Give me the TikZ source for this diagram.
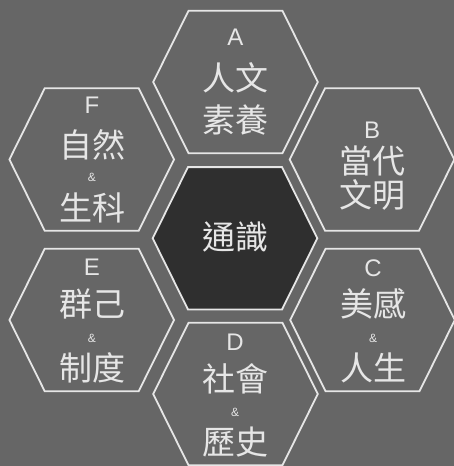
\documentclass[tikz,border=0pt]{standalone}
\usepackage{fontspec}
\setmainfont{Liberation Sans}
\newfontfamily\cjkfont{Noto Sans CJK TC}
\usepackage{tikz}
\usetikzlibrary{positioning}
\definecolor{honeybg}{HTML}{666666}
\definecolor{honeyline}{HTML}{E6E6E6}
\definecolor{honeycore}{HTML}{2F2F2F}
\tikzstyle{cell} = [draw=honeyline, line width=1.8pt, line join=miter]
\tikzstyle{word} = [text=honeyline, inner sep=0pt, font=\cjkfont\fontsize{33}{33}\selectfont]
\tikzstyle{letter} = [text=honeyline, inner sep=0pt, font=\fontsize{24}{24}\selectfont]
\tikzstyle{amp} = [text=honeyline, inner sep=0pt, font=\fontsize{12}{12}\selectfont]

\begin{document}
\begin{tikzpicture}[x=1pt, y=-1pt]
\fill[honeybg] (0,0) rectangle (454,466);
\useasboundingbox (0,0) rectangle (454,466);
% hexagon centres
\foreach \n/\x/\y in {a/235.5/82, b/372/159.5, c/372.5/320, d/235.5/394, e/91.7/320, f/91.7/159.5, core/235/238.3}
  \coordinate (\n) at (\x,\y);
\foreach \n in {a,b,c,d,e,f}
  \draw[cell, shift={(\n)}] (-82.3,0) -- (-47,-71.2) -- (47,-71.2) -- (82.3,0) -- (47,71.2) -- (-47,71.2) -- cycle;
\draw[cell, fill=honeycore, shift={(core)}] (-82.3,0) -- (-47,-71.2) -- (47,-71.2) -- (82.3,0) -- (47,71.2) -- (-47,71.2) -- cycle;

\node[word] (coreText) at (235,236.7) {通識};

\node[letter] (aTag) at (235.5,37) {A};
\node[word] (aTop) at (235.5,77.5) {人文};
\node[word] (aBot) at (235.5,120) {素養};

\node[letter] (bTag) at (372,130) {B};
\node[word] (bTop) at (372,161) {當代};
\node[word] (bBot) at (372,195) {文明};

\node[letter] (cTag) at (373,268) {C};
\node[word] (cTop) at (373,304) {美感};
\node[amp] (cAmp) at (373,338.5) {\&};
\node[word] (cBot) at (373,367.5) {人生};

\node[letter] (dTag) at (235,341.8) {D};
\node[word] (dTop) at (235,378.8) {社會};
\node[amp] (dAmp) at (235,412.8) {\&};
\node[word] (dBot) at (235,442) {歷史};

\node[letter] (eTag) at (92,267.5) {E};
\node[word] (eTop) at (92,304) {群己};
\node[amp] (eAmp) at (92,338.5) {\&};
\node[word] (eBot) at (92,368) {制度};

\node[letter] (fTag) at (92,105.5) {F};
\node[word] (fTop) at (92,145) {自然};
\node[amp] (fAmp) at (92,177.8) {\&};
\node[word] (fBot) at (92,208) {生科};
\end{tikzpicture}
\end{document}
